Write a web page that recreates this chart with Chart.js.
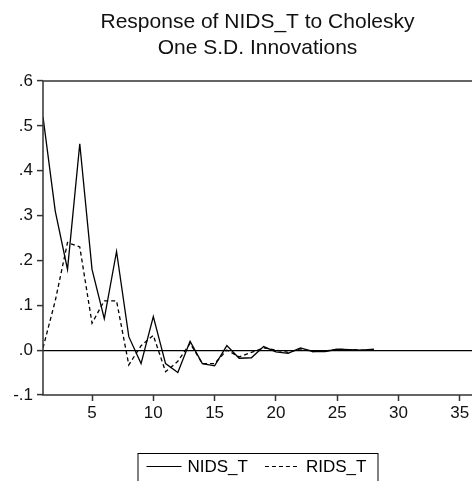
<!DOCTYPE html>
<html>
<head>
<meta charset="utf-8">
<script src="https://cdn.jsdelivr.net/npm/chart.js@4"></script>
<style>
  html, body { margin: 0; padding: 0; background: #fff; overflow: hidden; }
  #wrap { width: 472px; height: 481px; }
</style>
</head>
<body>
<div id="wrap"><canvas id="irf-chart" width="472" height="481"></canvas></div>
<script>
// ── Data ─────────────────────────────────────────────────────────────────
const TITLE   = ["Response of NIDS_T to Cholesky", "One S.D. Innovations"];
const PERIODS = [1, 2, 3, 4, 5, 6, 7, 8, 9, 10, 11, 12, 13, 14, 15, 16, 17, 18, 19, 20,
                 21, 22, 23, 24, 25, 26, 27, 28];
const NIDS_T  = [0.52, 0.31, 0.18, 0.46, 0.18, 0.07, 0.22, 0.03, -0.03, 0.075,
                 -0.03, -0.05, 0.02, -0.03, -0.035, 0.01, -0.018, -0.017, 0.008, -0.004,
                 -0.007, 0.005, -0.003, -0.003, 0.002, 0.001, 0.0, 0.002];
const RIDS_T  = [0.005, 0.11, 0.24, 0.23, 0.06, 0.11, 0.11, -0.033, 0.01, 0.033,
                 -0.048, -0.025, 0.015, -0.03, -0.03, 0.0, -0.015, -0.005, 0.005, 0.0,
                 -0.005, 0.003, -0.003, -0.002, 0.002, 0.001, 0.0, 0.001];
const X_TICKS = [5, 10, 15, 20, 25, 30, 35];
const Y_TICKS = [-0.1, 0.0, 0.1, 0.2, 0.3, 0.4, 0.5, 0.6];

const FONT = "'Liberation Sans', Arial, sans-serif";
const AXIS = "#333";

function toPoints(ys) {
  return ys.map((y, i) => ({ x: PERIODS[i], y }));
}

function fmtY(v) {
  const s = Math.abs(v).toFixed(1).replace(/^0/, "");
  return (v < 0 ? "-" : "") + s;
}

// ── Frame (left, bottom, top) + boxed legend ─────────────────────────────
const framePlugin = {
  id: "frame",
  afterDraw(chart) {
    const { ctx, chartArea: a } = chart;
    ctx.save();
    ctx.strokeStyle = AXIS;
    ctx.lineWidth = 1.5;
    ctx.beginPath();
    ctx.moveTo(chart.width, a.top);
    ctx.lineTo(a.left, a.top);
    ctx.lineTo(a.left, a.bottom);
    ctx.lineTo(chart.width, a.bottom);
    ctx.stroke();

    // legend
    const cx = (a.left + a.right) / 2;
    const boxW = 240, top = 453, lineY = 466.5, baseY = 472;
    const left = cx - boxW / 2;
    ctx.lineWidth = 1;
    ctx.strokeStyle = "#000";
    ctx.strokeRect(left + 0.5, top + 0.5, boxW, 40);

    ctx.font = "17px " + FONT;
    ctx.fillStyle = "#000";
    ctx.textBaseline = "alphabetic";
    let x = left + 9;
    chart.data.datasets.forEach(ds => {
      ctx.beginPath();
      ctx.setLineDash(ds.borderDash || []);
      ctx.lineWidth = 1.2;
      ctx.moveTo(x, lineY);
      ctx.lineTo(x + 35, lineY);
      ctx.stroke();
      ctx.setLineDash([]);
      ctx.fillText(ds.label, x + 41, baseY);
      x += 41 + ctx.measureText(ds.label).width + 17;
    });
    ctx.restore();
  },
};

// ── Chart ────────────────────────────────────────────────────────────────
new Chart(document.getElementById("irf-chart").getContext("2d"), {
  type: "line",
  data: {
    datasets: [
      { label: "NIDS_T", data: toPoints(NIDS_T), borderColor: "#000", borderWidth: 1.3,
        pointRadius: 0, tension: 0 },
      { label: "RIDS_T", data: toPoints(RIDS_T), borderColor: "#000", borderWidth: 1.3,
        borderDash: [4, 3], pointRadius: 0, tension: 0 },
    ],
  },
  options: {
    responsive: false,
    animation: false,
    layout: { padding: { left: 0, right: 0, top: 0, bottom: 56 } },
    plugins: {
      legend: { display: false },
      tooltip: { enabled: false },
      title: {
        display: true,
        text: TITLE,
        fullSize: false,
        color: "#111",
        font: { family: FONT, size: 21, weight: "normal", lineHeight: 1.2 },
        padding: { top: 10, bottom: 20.6 },
      },
    },
    scales: {
      x: {
        type: "linear",
        min: 1, max: 36,
        afterBuildTicks: s => { s.ticks = X_TICKS.map(v => ({ value: v })); },
        afterFit: s => { s.height = 30; },
        border: { display: false },
        grid: { drawOnChartArea: false, tickLength: 6, tickColor: AXIS, tickWidth: 1.5 },
        ticks: { color: "#111", font: { family: FONT, size: 17 }, padding: 2, maxRotation: 0 },
      },
      y: {
        min: -0.1, max: 0.6,
        afterBuildTicks: s => { s.ticks = Y_TICKS.map(v => ({ value: v })); },
        afterFit: s => { s.width = 43; },
        border: { display: false },
        grid: {
          color: c => (c.tick && c.tick.value === 0 ? "#000" : "rgba(0,0,0,0)"),
          lineWidth: 1.2,
          tickLength: 6, tickColor: AXIS, tickWidth: 1.5,
        },
        ticks: { color: "#111", font: { family: FONT, size: 17 }, padding: 4, callback: fmtY },
      },
    },
  },
  plugins: [framePlugin],
});
</script>
</body>
</html>
